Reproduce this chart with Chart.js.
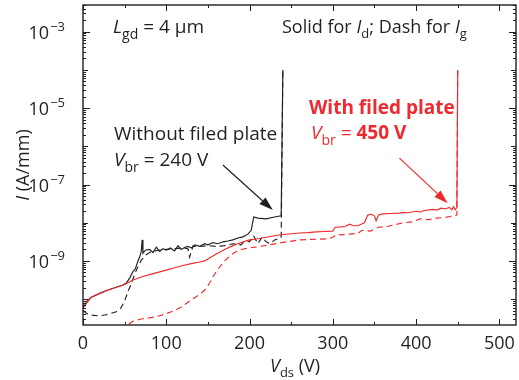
<!DOCTYPE html>
<html>
<head>
<meta charset="utf-8">
<script src="https://cdn.jsdelivr.net/npm/chart.js@4.4.1/dist/chart.umd.min.js"></script>
<style>
  body { margin: 0; background: #fff; }
  canvas { display: block; }
</style>
</head>
<body>
<canvas id="ivChart" width="519" height="380"></canvas>
<script>
// Values; current stored as log10(I in A/mm)
const idNoFpV = [0, 5, 10, 20, 30, 40, 48, 52, 56, 60, 63, 66, 68, 70, 71, 72, 75, 80, 84, 88, 92, 96, 100, 105, 110, 114, 118, 122, 126, 130, 134, 140, 146, 150, 156, 162, 168, 174, 180, 186, 192, 198, 202, 205, 210, 220, 230, 238, 240];
const idNoFpLog = [-10.23, -10.05, -9.95, -9.85, -9.76, -9.69, -9.63, -9.58, -9.45, -9.28, -9.2, -9.0, -8.9, -8.75, -8.45, -8.8, -8.72, -8.7, -8.78, -8.64, -8.75, -8.68, -8.72, -8.66, -8.74, -8.6, -8.7, -8.65, -8.62, -8.66, -8.58, -8.62, -8.55, -8.58, -8.52, -8.55, -8.5, -8.48, -8.45, -8.4, -8.37, -8.3, -8.2, -7.85, -7.88, -7.9, -7.85, -7.82, -4.0];

const igNoFpV = [0, 5, 10, 20, 30, 40, 45, 50, 54, 58, 62, 66, 70, 75, 80, 90, 100, 110, 120, 126, 128, 132, 140, 150, 160, 170, 180, 190, 195, 200, 205, 210, 215, 220, 225, 230, 238, 240];
const igNoFpLog = [-10.3, -10.38, -10.42, -10.44, -10.4, -10.33, -10.25, -10.05, -9.8, -9.6, -9.35, -9.15, -8.98, -8.85, -8.78, -8.72, -8.7, -8.68, -8.66, -8.68, -8.9, -8.62, -8.62, -8.6, -8.62, -8.6, -8.55, -8.58, -8.45, -8.5, -8.35, -8.55, -8.38, -8.5, -8.55, -8.45, -8.4, -4.0];

const idFpV = [0, 10, 20, 30, 40, 50, 60, 70, 80, 90, 100, 110, 120, 130, 140, 146, 150, 160, 170, 180, 190, 200, 210, 220, 230, 240, 250, 260, 270, 280, 290, 300, 303, 310, 315, 320, 325, 330, 338, 342, 346, 350, 352, 355, 360, 370, 380, 385, 390, 400, 405, 410, 420, 425, 430, 435, 440, 443, 445, 447, 449, 450];
const idFpLog = [-10.23, -9.95, -9.85, -9.76, -9.69, -9.62, -9.5, -9.42, -9.36, -9.3, -9.24, -9.18, -9.12, -9.07, -9.03, -9.0, -8.95, -8.82, -8.7, -8.6, -8.52, -8.45, -8.42, -8.38, -8.34, -8.31, -8.29, -8.27, -8.26, -8.24, -8.23, -8.22, -8.12, -8.11, -8.1, -8.04, -8.08, -8.08, -8.0, -7.8, -7.78, -7.82, -7.95, -7.8, -7.77, -7.76, -7.75, -7.73, -7.74, -7.7, -7.72, -7.68, -7.65, -7.67, -7.62, -7.64, -7.6, -7.66, -7.58, -7.66, -7.6, -4.0];

const igFpV = [55, 60, 70, 80, 90, 100, 110, 120, 128, 135, 142, 148, 152, 156, 160, 164, 170, 176, 182, 190, 200, 212, 224, 236, 248, 260, 270, 284, 295, 300, 305, 310, 320, 330, 335, 345, 355, 365, 375, 385, 395, 405, 415, 425, 435, 445, 449, 450];
const igFpLog = [-10.65, -10.58, -10.52, -10.49, -10.45, -10.38, -10.3, -10.18, -10.05, -9.95, -9.85, -9.72, -9.58, -9.42, -9.28, -9.16, -9.0, -8.88, -8.78, -8.7, -8.66, -8.62, -8.58, -8.53, -8.49, -8.45, -8.44, -8.43, -8.42, -8.38, -8.3, -8.32, -8.3, -8.28, -8.2, -8.22, -8.12, -8.1, -8.05, -8.0, -7.98, -7.9, -7.92, -7.88, -7.86, -7.82, -7.8, -4.0];

const xTicks = [0, 100, 200, 300, 400, 500];
const yLabelExps = [-3, -5, -7, -9];

// arrows: [fromV, fromLog, toV, toLog]
const arrowNoFp = [168, -6.49, 228, -7.67];
const arrowFp = [380, -6.31, 438, -7.49];

const BLACK = '#231f20';
const RED = '#ee2a2e';
const FONT = '"Open Sans", "Noto Sans", sans-serif';

function pts(xs, logs) {
  return xs.map((v, i) => ({ x: v, y: Math.pow(10, logs[i]) }));
}

function rich(ctx, x, y, parts, color, size) {
  ctx.fillStyle = color;
  ctx.textBaseline = 'alphabetic';
  ctx.textAlign = 'left';
  parts.forEach(p => {
    const s = p.sub || p.sup ? Math.round(size * 0.72) : size;
    ctx.font = (p.i ? 'italic ' : '') + (p.b ? 'bold ' : '') + s + 'px ' + FONT;
    const dy = p.sub ? size * 0.3 : (p.sup ? -size * 0.45 : 0);
    ctx.fillText(p.t, x, y + dy);
    x += ctx.measureText(p.t).width;
  });
  return x;
}

function arrow(ctx, xs, ys, a, color) {
  const x1 = xs.getPixelForValue(a[0]), y1 = ys.getPixelForValue(Math.pow(10, a[1]));
  const x2 = xs.getPixelForValue(a[2]), y2 = ys.getPixelForValue(Math.pow(10, a[3]));
  const ang = Math.atan2(y2 - y1, x2 - x1);
  const hl = 14, hw = 4.5;
  ctx.strokeStyle = color;
  ctx.fillStyle = color;
  ctx.lineWidth = 1.2;
  ctx.beginPath();
  ctx.moveTo(x1, y1);
  ctx.lineTo(x2 - hl * Math.cos(ang), y2 - hl * Math.sin(ang));
  ctx.stroke();
  ctx.beginPath();
  ctx.moveTo(x2, y2);
  ctx.lineTo(x2 - hl * Math.cos(ang) + hw * Math.sin(ang), y2 - hl * Math.sin(ang) - hw * Math.cos(ang));
  ctx.lineTo(x2 - hl * Math.cos(ang) - hw * Math.sin(ang), y2 - hl * Math.sin(ang) + hw * Math.cos(ang));
  ctx.closePath();
  ctx.fill();
}

const framePlugin = {
  id: 'frame',
  afterDraw(chart) {
    const ctx = chart.ctx;
    const a = chart.chartArea;
    const xs = chart.scales.x, ys = chart.scales.y;
    ctx.save();
    ctx.strokeStyle = BLACK;
    ctx.lineWidth = 1.4;
    ctx.strokeRect(a.left, a.top, a.right - a.left, a.bottom - a.top);

    // inward ticks, x
    ctx.lineWidth = 1;
    ctx.beginPath();
    for (let v = 0; v <= 500; v += 50) {
      const px = Math.round(xs.getPixelForValue(v)) + 0.5;
      const len = v % 100 === 0 ? 6 : 3;
      ctx.moveTo(px, a.bottom); ctx.lineTo(px, a.bottom - len);
      ctx.moveTo(px, a.top); ctx.lineTo(px, a.top + len);
    }
    // inward ticks, y
    for (let n = -11; n <= -3; n++) {
      for (let k = 1; k <= 9; k++) {
        const val = k * Math.pow(10, n);
        if (val < ys.min || val > ys.max) continue;
        const py = Math.round(ys.getPixelForValue(val)) + 0.5;
        const len = k === 1 ? (n % 2 !== 0 ? 7 : 5) : 3;
        ctx.moveTo(a.left, py); ctx.lineTo(a.left + len, py);
        ctx.moveTo(a.right, py); ctx.lineTo(a.right - len, py);
      }
    }
    ctx.stroke();

    // y tick labels
    yLabelExps.forEach(e => {
      const py = ys.getPixelForValue(Math.pow(10, e));
      ctx.font = '13px ' + FONT;
      const sup = '\u2212' + Math.abs(e);
      const sw = ctx.measureText(sup).width;
      const right = a.left - 18;
      ctx.fillStyle = BLACK;
      ctx.textAlign = 'left';
      ctx.fillText(sup, right - sw, py - 1);
      ctx.font = '18px ' + FONT;
      ctx.textAlign = 'right';
      ctx.fillText('10', right - sw - 1, py + 7);
    });

    // axis titles
    ctx.save();
    ctx.translate(29, 165);
    ctx.rotate(-Math.PI / 2);
    ctx.font = 'italic 18px ' + FONT;
    const w1 = ctx.measureText('I').width;
    ctx.font = '18px ' + FONT;
    const w2 = ctx.measureText(' (A/mm)').width;
    rich(ctx, -(w1 + w2) / 2, 0, [{ t: 'I', i: true }, { t: ' (A/mm)' }], BLACK, 18);
    ctx.restore();
    rich(ctx, 270, 372, [{ t: 'V', i: true }, { t: 'ds', sub: true }, { t: ' (V)' }], BLACK, 18);

    // annotations
    rich(ctx, 113, 33, [{ t: 'L', i: true }, { t: 'gd', sub: true }, { t: ' = 4 \u03bcm' }], BLACK, 19);
    rich(ctx, 282, 33, [{ t: 'Solid for ' }, { t: 'I', i: true }, { t: 'd', sub: true }, { t: '; Dash for ' }, { t: 'I', i: true }, { t: 'g', sub: true }], BLACK, 18);
    rich(ctx, 114, 140, [{ t: 'Without filed plate' }], BLACK, 19);
    rich(ctx, 114, 166, [{ t: 'V', i: true }, { t: 'br', sub: true }, { t: ' = 240 V' }], BLACK, 19);
    rich(ctx, 309, 114, [{ t: 'With filed plate', b: true }], RED, 19);
    rich(ctx, 311, 139, [{ t: 'V', i: true }, { t: 'br', sub: true }, { t: ' = ' }, { t: '450 V', b: true }], RED, 19);

    arrow(ctx, xs, ys, arrowNoFp, BLACK);
    arrow(ctx, xs, ys, arrowFp, RED);
    ctx.restore();
  }
};

const ctx = document.getElementById('ivChart').getContext('2d');
new Chart(ctx, {
  type: 'line',
  data: {
    datasets: [
      { data: pts(igFpV, igFpLog), borderColor: RED, borderWidth: 1.15, borderDash: [6, 4], pointRadius: 0 },
      { data: pts(idFpV, idFpLog), borderColor: RED, borderWidth: 1.15, pointRadius: 0 },
      { data: pts(igNoFpV, igNoFpLog), borderColor: BLACK, borderWidth: 1.15, borderDash: [6, 4], pointRadius: 0 },
      { data: pts(idNoFpV, idNoFpLog), borderColor: BLACK, borderWidth: 1.15, pointRadius: 0 }
    ]
  },
  options: {
    responsive: false,
    animation: false,
    layout: { padding: { top: 5, right: 3, left: 0, bottom: 0 } },
    scales: {
      x: {
        type: 'linear', min: 0, max: 520,
        afterFit: s => { s.height = 55; },
        afterBuildTicks: s => { s.ticks = xTicks.map(v => ({ value: v })); },
        ticks: { font: { size: 18, family: FONT }, color: BLACK, padding: 0, maxRotation: 0 },
        grid: { display: false },
        border: { display: false }
      },
      y: {
        type: 'logarithmic', min: 2.1e-11, max: 5e-3,
        afterFit: s => { s.width = 83; },
        ticks: { display: false },
        grid: { display: false },
        border: { display: false }
      }
    },
    plugins: { legend: { display: false }, tooltip: { enabled: false } }
  },
  plugins: [framePlugin]
});
</script>
</body>
</html>
